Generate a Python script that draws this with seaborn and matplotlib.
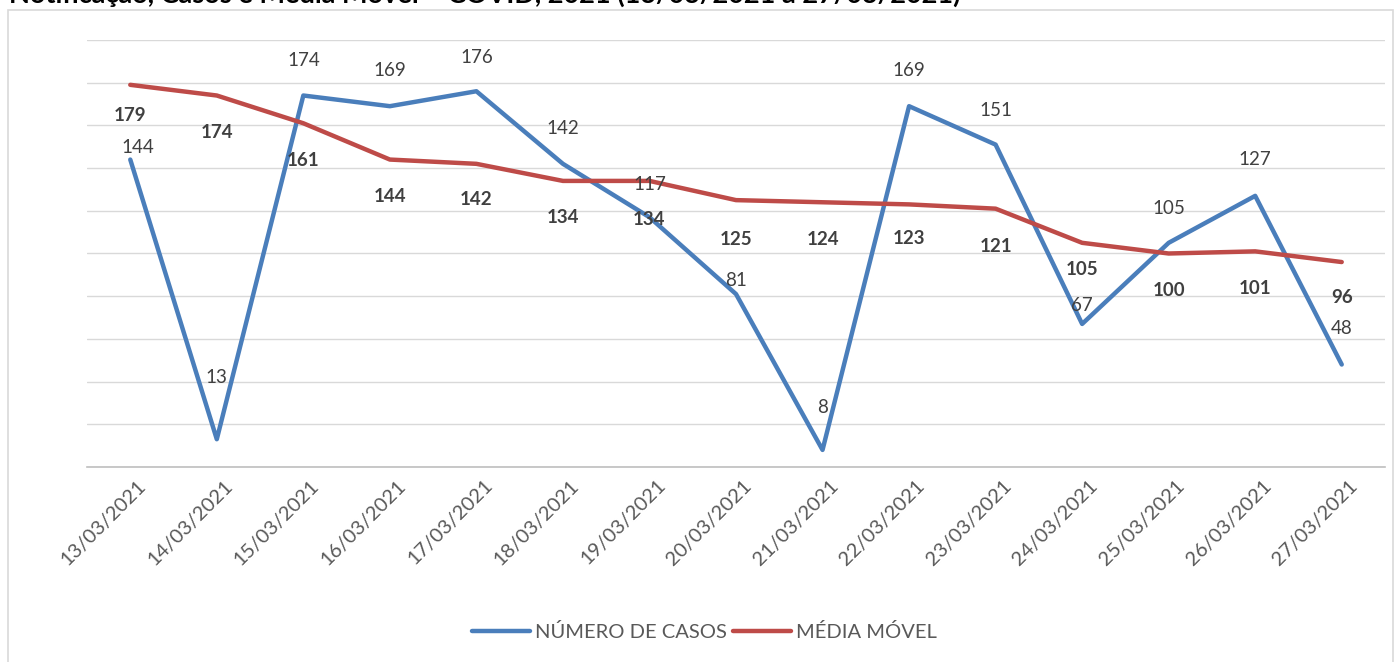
import matplotlib
matplotlib.use("Agg")
import matplotlib.pyplot as plt
import matplotlib.patches as mpatches
import matplotlib.transforms as mtransforms
from matplotlib.ticker import FixedLocator, MultipleLocator
import pandas as pd
import seaborn as sns

# dados do gráfico
datas = ["13/03/2021", "14/03/2021", "15/03/2021", "16/03/2021", "17/03/2021",
         "18/03/2021", "19/03/2021", "20/03/2021", "21/03/2021", "22/03/2021",
         "23/03/2021", "24/03/2021", "25/03/2021", "26/03/2021", "27/03/2021"]
casos = [144, 13, 174, 169, 176, 142, 117, 81, 8, 169, 151, 67, 105, 127, 48]
media_movel = [179, 174, 161, 144, 142, 134, 134, 125, 124, 123, 121, 105, 100, 101, 96]

titulo = "Notificação, Casos e Média Móvel – COVID, 2021 (13/03/2021 a 27/03/2021)"
nome_casos = "NÚMERO DE CASOS"
nome_media = "MÉDIA MÓVEL"

# deslocamento (pixels) dos rótulos, como ajustados no gráfico original
desloc_casos = [(8, 12), (0, 62), (0, 35), (0, 36), (0, 34), (0, 35), (0, 33), (0, 14),
                (0, 42), (0, 36), (0, 34), (0, 18), (0, 34), (0, 36), (0, 36)]
desloc_media = [(0, -31), (0, -37), (0, -37), (0, -37), (0, -36), (0, -37), (0, -39),
                (0, -39), (0, -37), (0, -34), (0, -38), (0, -27), (0, -37), (0, -37), (0, -35)]

AZUL = "#4A7EBB"
VERMELHO = "#BE4B48"

df = pd.DataFrame({
    "Data": datas * 2,
    "Valor": casos + media_movel,
    "Serie": [nome_casos] * len(datas) + [nome_media] * len(datas),
})

sns.set_style("white")
plt.rcParams["font.family"] = ["Lato", "DejaVu Sans"]

fig = plt.figure(figsize=(13.95, 6.62), dpi=100)
ax = fig.add_axes([87 / 1395, 1 - 467 / 662, (1385 - 87) / 1395, 427 / 662])

sns.lineplot(data=df, x="Data", y="Valor", hue="Serie", sort=False,
             palette={nome_casos: AZUL, nome_media: VERMELHO},
             linewidth=3.2, ax=ax, legend=True)

ax.set_xlim(-0.5, len(datas) - 0.5)
ax.set_ylim(0, 200)
ax.yaxis.set_major_locator(MultipleLocator(20))
ax.grid(axis="y", color="#d9d9d9", linewidth=1)
ax.set_axisbelow(True)
ax.set_yticklabels([])
ax.tick_params(axis="y", length=0)
ax.set_xlabel("")
ax.set_ylabel("")

for lado in ["top", "right", "left"]:
    ax.spines[lado].set_visible(False)
ax.spines["bottom"].set_color("#bfbfbf")
ax.spines["bottom"].set_linewidth(1.2)

# marcas entre as categorias, como no Excel
ax.xaxis.set_minor_locator(FixedLocator([i - 0.5 for i in range(len(datas) + 1)]))
ax.tick_params(axis="x", which="minor", length=7, color="#bfbfbf", width=1.2)
ax.tick_params(axis="x", which="major", length=0, pad=7)
desvio = mtransforms.ScaledTranslation(7 / 100, 0, fig.dpi_scale_trans)
for rotulo in ax.get_xticklabels():
    rotulo.set_rotation(45)
    rotulo.set_ha("right")
    rotulo.set_rotation_mode("anchor")
    rotulo.set_color("#595959")
    rotulo.set_fontsize(14.5)
    rotulo.set_transform(rotulo.get_transform() + desvio)

# rótulos de dados
for i, (v, d) in enumerate(zip(casos, desloc_casos)):
    ax.annotate(str(v), (i, v), xytext=d, textcoords="offset pixels",
                ha="center", va="center", fontsize=13.5, color="#404040")
for i, (v, d) in enumerate(zip(media_movel, desloc_media)):
    ax.annotate(str(v), (i, v), xytext=d, textcoords="offset pixels",
                ha="center", va="center", fontsize=13.5, color="#404040",
                fontweight="bold")

handles, labels = ax.get_legend_handles_labels()
ax.get_legend().remove()
fig.legend(handles, labels, loc="center", bbox_to_anchor=(0.505, 1 - 632 / 662),
           ncol=2, frameon=False, fontsize=14.5, handlelength=2.9,
           handletextpad=0.25, columnspacing=0.3, labelcolor="#595959")

# moldura da área do gráfico
fig.patches.append(mpatches.Rectangle((8 / 1395, -0.01), 1385 / 1395, 1 - 10 / 662 + 0.01,
                                      transform=fig.transFigure, fill=False,
                                      edgecolor="#d9d9d9", linewidth=1.2))

# título (cortado no topo, como na imagem original)
fig.text(960 / 1395, 1 - 3 / 662, titulo, ha="right", va="baseline",
         fontsize=19.5, fontweight="bold", color="black")

fig.savefig("out.png", dpi=100)
